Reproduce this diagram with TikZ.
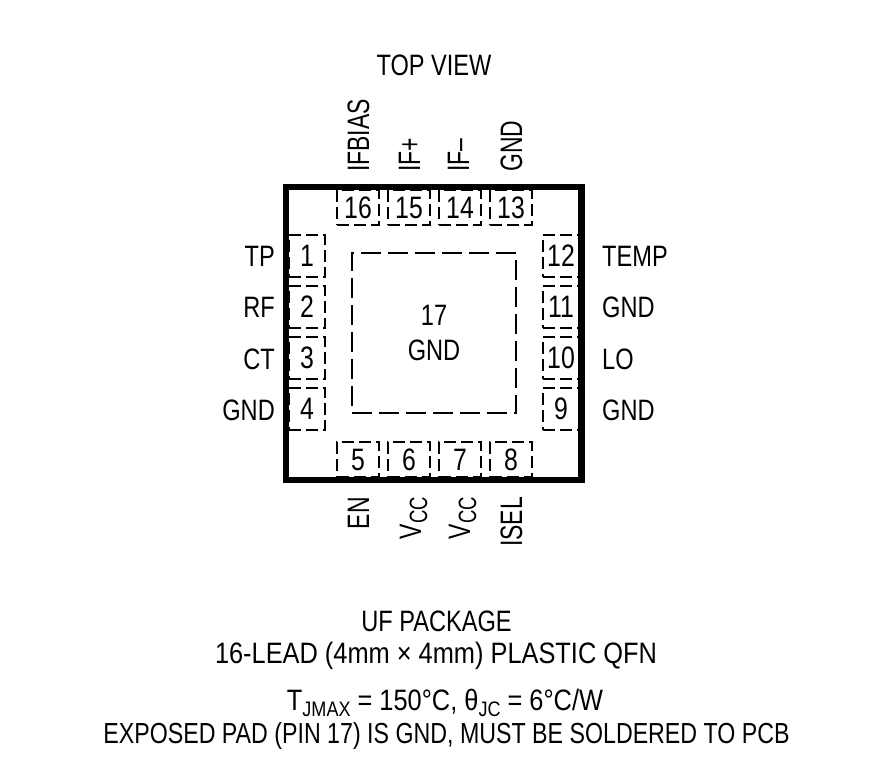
\documentclass[tikz,border=0pt]{standalone}
\usepackage{fontspec}
\setmainfont[FakeStretch=0.8]{Liberation Sans}
\newfontfamily\tallfont[FakeStretch=0.74]{Liberation Sans}
\newfontfamily\widefont[FakeStretch=0.86]{Liberation Sans}
\newcommand{\subtxt}[1]{\raisebox{-0.22em}{\fontsize{21}{21}\selectfont #1}}
\newcommand{\subtall}[1]{\raisebox{-0.2em}{\fontsize{25}{25}\selectfont #1}}
\tikzset{
  lbl/.style={inner sep=0pt,font=\fontsize{29.5}{34}\selectfont},
  side/.style={inner sep=0pt,rotate=90,font=\tallfont\fontsize{31}{34}\selectfont},
  wide/.style={inner sep=0pt,anchor=base,font=\widefont\fontsize{29.5}{34}\selectfont},
  padbox/.style={draw,line width=2,inner sep=0pt,minimum width=#1,dash pattern=on 12pt off 5pt,font=\fontsize{31}{34}\selectfont},
  padh/.style={padbox=42,minimum height=35},
  padv/.style={padbox=36,minimum height=42},
}
\begin{document}
\begin{tikzpicture}[x=1pt,y=-1pt]
\useasboundingbox (0,0) rectangle (880,775);
\node (title) [lbl,anchor=base] at (434,76) {TOP VIEW};
% package
\node (body) [draw,line width=6.5,inner sep=0pt,minimum width=295.5,minimum height=292.5] at (433.75,333.5) {};
\node (p17) [draw,line width=2,inner sep=0pt,minimum width=164,minimum height=160,dash pattern=on 20pt off 7pt,align=center,font=\fontsize{29.5}{35}\selectfont] at (434,333) {\raisebox{-2pt}{17}\\\raisebox{-2pt}{GND}};
% top pads
\node (p16) [padh] at (358,207.5) {16};
\node (p15) [padh] at (409,207.5) {15};
\node (p14) [padh] at (460,207.5) {14};
\node (p13) [padh] at (511,207.5) {13};
% bottom pads
\node (p5) [padh] at (358,459.5) {5};
\node (p6) [padh] at (409,459.5) {6};
\node (p7) [padh] at (460,459.5) {7};
\node (p8) [padh] at (511,459.5) {8};
% left pads
\node (p1) [padv] at (307,256) {1};
\node (p2) [padv] at (307,307) {2};
\node (p3) [padv] at (307,358) {3};
\node (p4) [padv] at (307,409) {4};
% right pads
\node (p12) [padv] at (561,256) {12};
\node (p11) [padv] at (561,307) {11};
\node (p10) [padv] at (561,358) {10};
\node (p9) [padv] at (561,409) {9};
% left and right names
\node (tp) [lbl,anchor=base east] at (275,267) {TP};
\node (rf) [lbl,anchor=base east] at (275,318) {RF};
\node (ct) [lbl,anchor=base east] at (275,369) {CT};
\node (gnda) [lbl,anchor=base east] at (275,420) {GND};
\node (temp) [lbl,anchor=base west] at (602,267) {TEMP};
\node (gndb) [lbl,anchor=base west] at (602,318) {GND};
\node (lo) [lbl,anchor=base west] at (602,369) {LO};
\node (gndc) [lbl,anchor=base west] at (602,420) {GND};
% top and bottom names
\node (ifbias) [side,anchor=base west] at (369,172) {IFBIAS};
\node (ifp) [side,anchor=base west] at (420,172) {IF+};
\node (ifm) [side,anchor=base west] at (469,172) {IF–};
\node (gndd) [side,anchor=base west] at (522,172) {GND};
\node (en) [side,anchor=base east] at (369,497) {EN};
\node (vcca) [side,anchor=base east] at (421,497) {V\subtall{CC}};
\node (vccb) [side,anchor=base east] at (470,497) {V\subtall{CC}};
\node (isel) [side,anchor=base east] at (522,497) {ISEL};
% notes
\node (pkg) [lbl,anchor=base] at (436.5,631) {UF PACKAGE};
\node (lead) [wide] at (436,663) {16-LEAD (4mm × 4mm) PLASTIC QFN};
\node (tj) [wide] at (445,710) {T\subtxt{JMAX} = 150°C, θ\subtxt{JC} = 6°C/W};
\node (pad) [inner sep=0pt,anchor=base,font=\fontsize{29}{34}\selectfont] at (446.5,743) {EXPOSED PAD (PIN 17) IS GND, MUST BE SOLDERED TO PCB};
\end{tikzpicture}
\end{document}
